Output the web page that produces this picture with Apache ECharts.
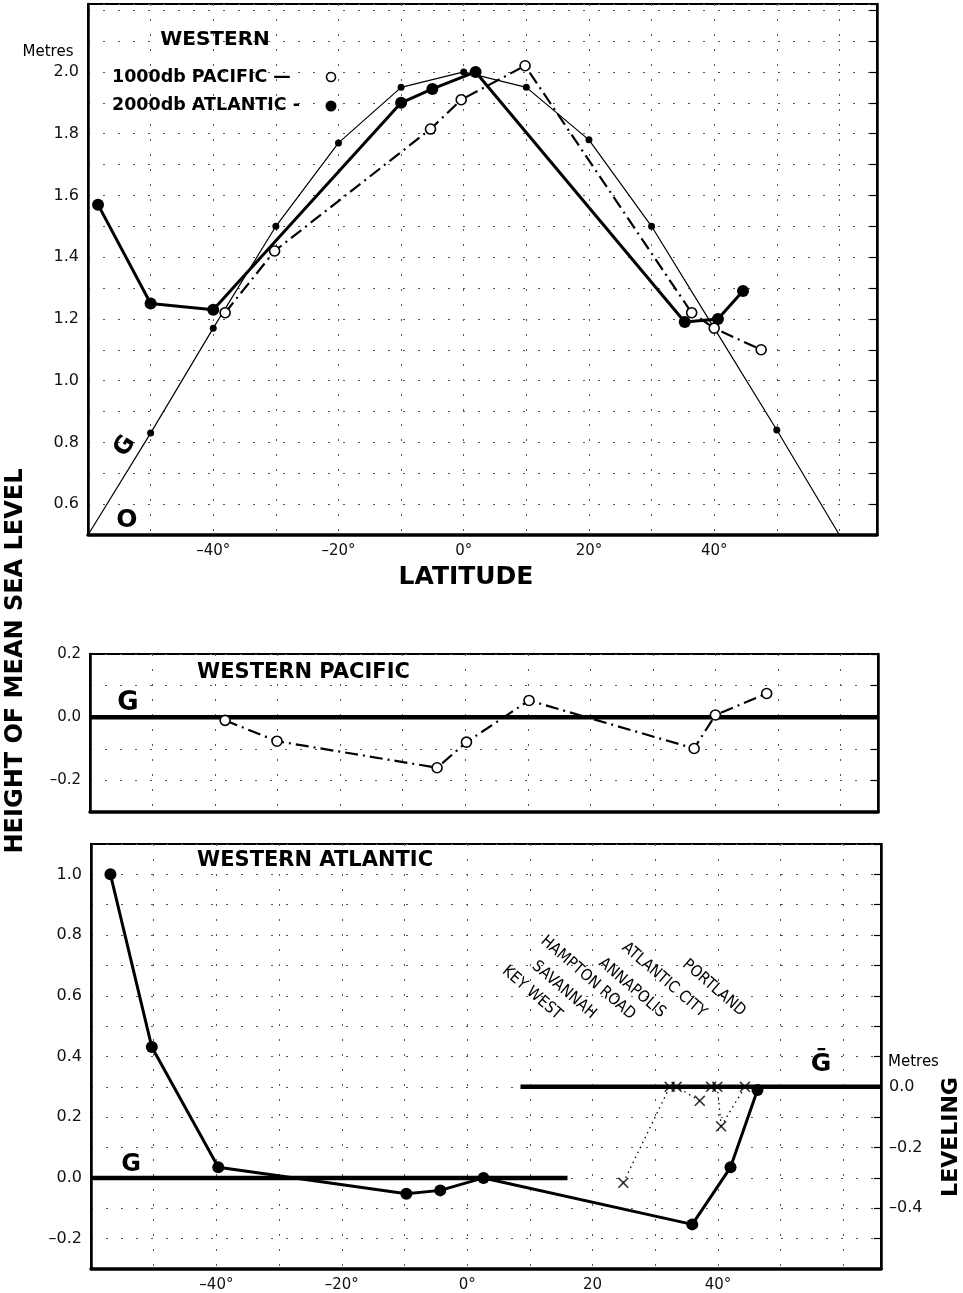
<!DOCTYPE html>
<html><head><meta charset="utf-8">
<script src="https://cdn.jsdelivr.net/npm/echarts@6.0.0/dist/echarts.min.js"></script>
<style>html,body{margin:0;padding:0;background:#fff}#c{width:963px;height:1293px}</style>
</head><body><div id="c"></div>
<script>
// ---- tick labels ----
const latTicks = [-40, -20, 0, 20, 40];
const topLatLabels = ['–40°', '–20°', '0°', '20°', '40°'];
const bottomLatLabels = ['–40°', '–20°', '0°', '20', '40°'];
const topHeightTicks = [0.6, 0.8, 1.0, 1.2, 1.4, 1.6, 1.8, 2.0];
const pacHeightTicks = [0.2, 0.0, -0.2];
const atlHeightTicks = [1.0, 0.8, 0.6, 0.4, 0.2, 0.0, -0.2];
const levelingTicks = [0.0, -0.2, -0.4];

// ---- top panel: [latitude, metres] ----
const geoidCurve = [[-60, 0.5], [-50, 0.83], [-40, 1.17], [-30, 1.50], [-20, 1.77], [-10, 1.95], [0, 2.0],
  [10, 1.95], [20, 1.78], [30, 1.50], [40, 1.17], [50, 0.84], [60, 0.5]];
const atlantic2000 = [[-58.4, 1.57], [-50, 1.25], [-40, 1.23], [-10, 1.90], [-5, 1.945], [1.9, 2.0],
  [35.3, 1.19], [40.6, 1.20], [44.6, 1.29]];
const pacific1000 = [[-38.1, 1.22], [-30.2, 1.42], [-5.3, 1.815], [-0.4, 1.91], [9.8, 2.02],
  [36.4, 1.22], [40, 1.17], [47.5, 1.10]];

// ---- middle panel: western Pacific departure from G ----
const pacificResidual = [[-38.4, -0.01], [-30.1, -0.076], [-4.5, -0.16], [0.2, -0.079], [10.2, 0.053],
  [36.6, -0.099], [40, 0.007], [48.2, 0.075]];

// ---- bottom panel: western Atlantic departure from G ----
const atlanticResidual = [[-56.9, 1.0], [-50.3, 0.431], [-39.7, 0.035], [-9.7, -0.052], [-4.3, -0.041],
  [2.6, 0.0], [35.9, -0.153], [42, 0.035], [46.3, 0.29]];
const gLineLeft = [[-60, 0], [16, 0]];        // left axis
const gBarLine = [[8.5, 0], [66, 0]];          // leveling axis
const stationOnLine = [[32.3, 0], [33.4, 0], [38.9, 0], [39.9, 0], [44.3, 0]];
const levelingValues = [[24.9, -0.316], [37.1, -0.046], [40.5, -0.13]];
const levelingLinks = [
  [[24.9, -0.316], [32.3, 0]],
  [[37.1, -0.046], [33.4, 0]],
  [[40.5, -0.13], [39.9, 0]],
  [[40.5, -0.13], [44.3, 0]]
];
const stationNames = ['KEY WEST', 'SAVANNAH', 'HAMPTON ROAD', 'ANNAPOLIS', 'ATLANTIC CITY', 'PORTLAND'];

// ---- helpers ----
const FONT = "'DejaVu Sans', sans-serif";
const num = v => (v < 0 ? '–' : '') + Math.abs(v).toFixed(1);
function pick(ticks, labels) {
  return v => {
    const i = ticks.findIndex(t => Math.abs(t - v) < 1e-6);
    return i < 0 ? '' : (labels ? labels[i] : num(ticks[i]));
  };
}
const gridLine = { show: true, lineStyle: { color: '#555', width: 1, type: [2, 13] } };
function xAx(gi, labels) {
  return {
    type: 'value', gridIndex: gi, min: -60, max: 66, interval: 10,
    axisLine: { show: true, onZero: false, lineStyle: { color: '#000', width: 3.5 } },
    axisTick: { show: false },
    axisLabel: labels ? { show: true, formatter: pick(latTicks, labels), color: '#111', fontFamily: FONT, fontSize: 15, margin: 9 } : { show: false },
    splitLine: gridLine
  };
}
function yAx(gi, min, max, ticks, fs) {
  return {
    type: 'value', gridIndex: gi, min, max, interval: 0.1, position: 'left',
    axisLine: { show: true, onZero: false, lineStyle: { color: '#000', width: 2.5 } },
    axisTick: { show: false },
    axisLabel: { show: true, formatter: pick(ticks), color: '#111', fontFamily: FONT, fontSize: fs, margin: 9, showMaxLabel: true },
    splitLine: gridLine
  };
}
function yRight(gi, min, max) {
  return {
    type: 'value', gridIndex: gi, min, max, interval: 0.1, position: 'right',
    axisLine: { show: true, onZero: false, lineStyle: { color: '#000', width: 2.5 } },
    axisTick: { show: true, inside: true, length: 7, lineStyle: { color: '#000', width: 1.2 } },
    axisLabel: { show: false }, splitLine: { show: false }
  };
}
const openCircle = { color: '#fff', borderColor: '#000', borderWidth: 1.6 };
const dashDot = { color: '#000', width: 2.2, type: [13, 5, 2, 5] };
const crossPath = 'path://M1 0L5 4L9 0L10 1L6 5L10 9L9 10L5 6L1 10L0 9L4 5L0 1Z';

const series = [
  // top
  { type: 'line', xAxisIndex: 0, yAxisIndex: 0, data: geoidCurve.map((p, i) => (i === 0 || i === geoidCurve.length - 1) ? { value: p, symbol: 'none' } : p),
    symbol: 'circle', symbolSize: 7, itemStyle: { color: '#000' }, lineStyle: { color: '#000', width: 1.2 }, z: 3 },
  { type: 'line', xAxisIndex: 0, yAxisIndex: 0, data: atlantic2000, symbol: 'circle', symbolSize: 12,
    itemStyle: { color: '#000' }, lineStyle: { color: '#000', width: 3 }, z: 4 },
  { type: 'line', xAxisIndex: 0, yAxisIndex: 0, data: pacific1000, symbol: 'circle', symbolSize: 10,
    itemStyle: openCircle, lineStyle: dashDot, z: 5 },
  // middle
  { type: 'line', xAxisIndex: 1, yAxisIndex: 2, data: [[-60, 0], [66, 0]], symbol: 'none', lineStyle: { color: '#000', width: 4.5 }, z: 2 },
  { type: 'line', xAxisIndex: 1, yAxisIndex: 2, data: pacificResidual, symbol: 'circle', symbolSize: 10,
    itemStyle: openCircle, lineStyle: dashDot, z: 5 },
  // bottom
  { type: 'line', xAxisIndex: 2, yAxisIndex: 4, data: gLineLeft, symbol: 'none', lineStyle: { color: '#000', width: 4.5 }, z: 2 },
  { type: 'line', xAxisIndex: 2, yAxisIndex: 5, data: gBarLine, symbol: 'none', lineStyle: { color: '#000', width: 4.5 }, z: 2 },
  { type: 'line', xAxisIndex: 2, yAxisIndex: 4, data: atlanticResidual, symbol: 'circle', symbolSize: 12,
    itemStyle: { color: '#000' }, lineStyle: { color: '#000', width: 3 }, z: 5 },
  ...levelingLinks.map(seg => ({ type: 'line', xAxisIndex: 2, yAxisIndex: 5, data: seg, symbol: 'none',
    lineStyle: { color: '#000', width: 1.3, type: [1.5, 4] }, z: 3 })),
  { type: 'scatter', xAxisIndex: 2, yAxisIndex: 5, data: stationOnLine, symbol: crossPath, symbolSize: 11, itemStyle: { color: '#000' }, z: 6 },
  { type: 'scatter', xAxisIndex: 2, yAxisIndex: 5, data: levelingValues, symbol: crossPath, symbolSize: 11, itemStyle: { color: '#000' }, z: 6 }
];

function txt(text, x, y, size, opts = {}) {
  return {
    type: 'text', x, y, rotation: opts.rot || 0, z: 100,
    style: { text, x: 0, y: 0, fill: '#000', font: (opts.weight || 'bold') + ' ' + size + 'px ' + (opts.family || FONT),
      textAlign: opts.align || 'center', textVerticalAlign: 'middle' }
  };
}
const NARROW = "'Liberation Sans Narrow', 'DejaVu Sans Condensed', sans-serif";
const stationPos = [[532, 993], [564, 990], [588, 978], [632, 988], [664, 980], [714, 988]];
const graphic = [
  txt('WESTERN', 215, 40, 20),
  txt('1000db PACIFIC —', 112, 77, 17.5, { align: 'left' }),
  txt('2000db ATLANTIC -', 112, 105, 17.5, { align: 'left' }),
  { type: 'circle', shape: { cx: 331, cy: 77, r: 4.5 }, style: { fill: '#fff', stroke: '#000', lineWidth: 1.6 }, z: 100 },
  { type: 'circle', shape: { cx: 331, cy: 106, r: 5.5 }, style: { fill: '#000' }, z: 100 },
  txt('Metres', 48, 52, 15, { weight: 'normal' }),
  txt('LATITUDE', 466, 577, 25),
  txt('HEIGHT OF MEAN SEA LEVEL', 16, 661, 24, { rot: Math.PI / 2 }),
  txt('G', 125, 446, 24, { rot: 1.0 }),
  txt('O', 127, 520, 25),
  txt('WESTERN PACIFIC', 197, 673, 21, { align: 'left' }),
  txt('G', 128, 703, 26),
  txt('WESTERN ATLANTIC', 197, 861, 21, { align: 'left' }),
  txt('G', 131, 1165, 24),
  txt('Ḡ', 821, 1064, 25),
  txt('Metres', 888, 1062, 15, { weight: 'normal', align: 'left' }),
  txt('LEVELING', 951, 1137, 22, { rot: Math.PI / 2 }),
  ...stationNames.map((s, i) => txt(s, stationPos[i][0], stationPos[i][1], 16, { weight: 'normal', family: NARROW, rot: -0.71 }))
];

const chart = echarts.init(document.getElementById('c'), null, { renderer: 'canvas' });
chart.setOption({
  animation: false,
  backgroundColor: '#fff',
  grid: [
    { left: 88, top: 4, width: 789, height: 531, show: true, borderColor: '#000', borderWidth: 2 },
    { left: 90, top: 654, width: 788, height: 158, show: true, borderColor: '#000', borderWidth: 2 },
    { left: 91, top: 844, width: 790, height: 425, show: true, borderColor: '#000', borderWidth: 2 }
  ],
  xAxis: [xAx(0, topLatLabels), xAx(1, null), xAx(2, bottomLatLabels)],
  yAxis: [
    yAx(0, 0.5, 2.22, topHeightTicks, 16),
    yRight(0, 0.5, 2.22),
    yAx(1, -0.3, 0.2, pacHeightTicks, 15),
    yRight(1, -0.3, 0.2),
    yAx(2, -0.3, 1.1, atlHeightTicks, 16),
    {
      type: 'value', gridIndex: 2, min: -0.6, max: 0.8, interval: 0.2, position: 'right',
      axisLine: { show: true, onZero: false, lineStyle: { color: '#000', width: 2.5 } },
      axisTick: { show: true, inside: true, length: 7, lineStyle: { color: '#000', width: 1.2 } },
      minorTick: { show: true, splitNumber: 2, length: 7, lineStyle: { color: '#000', width: 1.2 } },
      axisLabel: { show: true, formatter: pick(levelingTicks), color: '#111', fontFamily: FONT, fontSize: 16, margin: 8 },
      splitLine: { show: false }
    }
  ],
  series,
  graphic
});
</script>
</body></html>
